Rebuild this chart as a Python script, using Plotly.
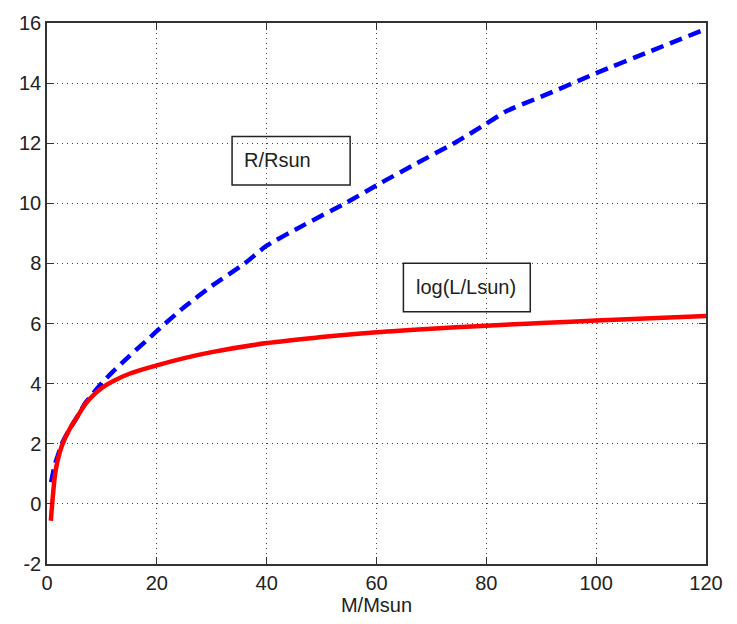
import plotly.graph_objects as go

# Red curve: log(L/Lsun) vs M/Msun
mass_L = [0.7, 1.0, 1.5, 2.0, 2.7, 4.0, 5.75, 7.0, 8.5, 10.0, 12.0, 15.0, 20.0, 25.0, 30.0,
          40.0, 50.0, 60.0, 70.0, 80.0, 90.0, 100.0, 110.0, 120.0]
logL = [-0.56, 0.12, 1.02, 1.49, 1.93, 2.45, 2.97, 3.33, 3.63, 3.86, 4.08, 4.33, 4.61, 4.85, 5.05,
        5.35, 5.55, 5.71, 5.83, 5.93, 6.02, 6.10, 6.18, 6.25]

# Blue curve: R/Rsun vs M/Msun
mass_R = [0.75, 1.0, 1.5, 2.0, 2.7, 4.0, 5.75, 7.0, 8.5, 10.0, 12.0, 15.0, 18.8, 20.6, 25.0, 30.0,
          36.0, 40.0, 47.0, 54.6, 60.7, 67.0, 74.6, 80.0, 83.7, 90.0, 100.0, 110.0, 120.0]
radius = [0.72, 0.95, 1.35, 1.62, 2.00, 2.45, 2.97, 3.36, 3.70, 4.02, 4.40, 4.92, 5.55, 5.85, 6.55, 7.25,
          8.00, 8.59, 9.30, 10.03, 10.67, 11.30, 12.05, 12.65, 13.07, 13.55, 14.33, 15.07, 15.80]

x_ticks = [0, 20, 40, 60, 80, 100, 120]
y_ticks = [-2, 0, 2, 4, 6, 8, 10, 12, 14, 16]
y_tick_text = ["-2", "0", "2", "4", "6", "8", "10", "12", "14", "16"]
x_title = "M/Msun"

label_R = "R/Rsun"
label_L = "log(L/Lsun)"

FONT = "Liberation Sans, Arial, sans-serif"

fig = go.Figure()
fig.add_trace(go.Scatter(x=mass_R, y=radius, mode="lines",
                         line=dict(color="#0000ff", width=4.5, dash="13px,7px", shape="spline", smoothing=0.6),
                         showlegend=False))
fig.add_trace(go.Scatter(x=mass_L, y=logL, mode="lines",
                         line=dict(color="#ff0000", width=4.5, shape="spline", smoothing=1.0),
                         showlegend=False))

axis_common = dict(
    showline=True, linecolor="#333333", linewidth=1.5, mirror="ticks",
    ticks="inside", ticklen=7, tickcolor="#333333", tickwidth=1.2,
    showgrid=True, gridcolor="#444444", gridwidth=1, griddash="1px,4px",
    zeroline=False, tickfont=dict(family=FONT, size=20, color="#222222"),
)

fig.update_xaxes(range=[0, 120], tickvals=x_ticks,
                 title=dict(text=x_title, font=dict(family=FONT, size=20, color="#222222"), standoff=4),
                 **axis_common)
fig.update_yaxes(range=[-2, 16], tickvals=y_ticks, ticktext=y_tick_text, **axis_common)

# text boxes (transparent, black border)
fig.add_shape(type="rect", x0=33.7, x1=55.2, y0=10.61, y1=12.22, line=dict(color="#222222", width=1.5),
              fillcolor="rgba(0,0,0,0)")
fig.add_shape(type="rect", x0=64.9, x1=88.0, y0=6.39, y1=8.01, line=dict(color="#222222", width=1.5),
              fillcolor="rgba(0,0,0,0)")
fig.add_annotation(x=35.5, y=11.45, text=label_R, showarrow=False, xanchor="left", yanchor="middle",
                   font=dict(family=FONT, size=20, color="#222222"))
fig.add_annotation(x=66.9, y=7.2, text=label_L, showarrow=False, xanchor="left", yanchor="middle",
                   font=dict(family=FONT, size=20, color="#222222"))

fig.update_layout(
    width=737, height=624,
    margin=dict(l=47, r=31, t=17, b=57),
    paper_bgcolor="white", plot_bgcolor="white",
    showlegend=False,
)

fig.write_html("out.html")
